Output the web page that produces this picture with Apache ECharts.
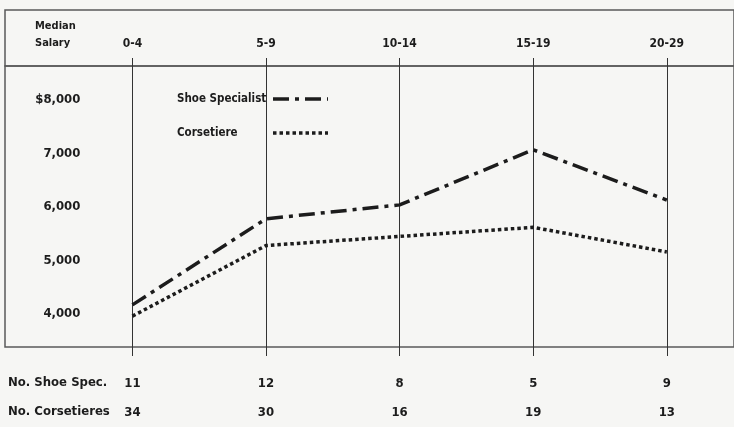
<!DOCTYPE html>
<html>
<head>
<meta charset="utf-8">
<script src="https://cdn.jsdelivr.net/npm/echarts@6/dist/echarts.min.js"></script>
<style>
  html, body { margin: 0; padding: 0; background: #f6f6f4; }
  #chart { width: 734px; height: 427px; }
</style>
</head>
<body>
<div id="chart"></div>
<script>
// ---- Data ----
var categories = ['0-4', '5-9', '10-14', '15-19', '20-29'];
var shoeSalary = [4170, 5780, 6040, 7070, 6130];
var corsSalary = [3960, 5280, 5450, 5620, 5160];
var shoeCounts = [11, 12, 8, 5, 9];
var corsCounts = [34, 30, 16, 19, 13];
var yTickValues = [4000, 5000, 6000, 7000, 8000];
var yTickLabels = ['4,000', '5,000', '6,000', '7,000', '$8,000'];
var seriesNames = ['Shoe Specialist', 'Corsetiere'];
var rowLabels = ['No. Shoe Spec.', 'No. Corsetieres'];
var headerLabel = 'Median\nSalary';

// ---- Styles ----
var FONT = '"DejaVu Sans Condensed", "Liberation Sans Narrow", "Arial Narrow", sans-serif';
var INK = '#1c1c1c';
var FRAME = '#5a5a5a';

var chart = echarts.init(document.getElementById('chart'), null, { renderer: 'canvas' });

var hiddenAxis = function (grid) {
  return { gridIndex: grid, type: 'value', show: false, min: 0, max: 1 };
};

var option = {
  backgroundColor: '#f6f6f4',
  animation: false,
  textStyle: { fontFamily: FONT },
  grid: [
    { left: 132.4, right: 67.2, top: 66, bottom: 80, show: false },
    { left: 5, right: -20, top: 10, height: 56, show: true, borderColor: FRAME, borderWidth: 1.5, backgroundColor: 'transparent' },
    { left: 5, right: -20, top: 66, bottom: 80, show: true, borderColor: FRAME, borderWidth: 1.5, backgroundColor: 'transparent' }
  ],
  xAxis: [
    {
      gridIndex: 0, type: 'category', data: categories, position: 'bottom', boundaryGap: false,
      axisLine: { show: false },
      axisTick: { show: true, length: 9, lineStyle: { color: '#333', width: 1 } },
      splitLine: { show: true, lineStyle: { color: '#333', width: 1 } },
      axisLabel: {
        margin: 22,
        formatter: function (v, i) { return '{a|' + shoeCounts[i] + '}\n{b|' + corsCounts[i] + '}'; },
        rich: {
          a: { fontFamily: FONT, fontWeight: 'bold', fontSize: 13, color: INK, lineHeight: 29 },
          b: { fontFamily: FONT, fontWeight: 'bold', fontSize: 13, color: INK, lineHeight: 29 }
        }
      }
    },
    {
      gridIndex: 0, type: 'category', data: categories, position: 'top', boundaryGap: false,
      axisLine: { show: false },
      axisTick: { show: true, length: 8, lineStyle: { color: '#333', width: 1 } },
      splitLine: { show: false },
      axisLabel: { margin: 16, fontFamily: FONT, fontWeight: 'bold', fontSize: 12, color: INK }
    },
    hiddenAxis(1), hiddenAxis(2)
  ],
  yAxis: [
    {
      gridIndex: 0, type: 'value', min: 3383, max: 8636,
      axisLine: { show: false }, axisTick: { show: false }, splitLine: { show: false },
      axisLabel: {
        customValues: yTickValues,
        margin: 52,
        fontFamily: FONT, fontWeight: 'bold', fontSize: 13, color: INK,
        formatter: function (v) { var i = yTickValues.indexOf(v); return i >= 0 ? yTickLabels[i] : ''; }
      }
    },
    hiddenAxis(1), hiddenAxis(2)
  ],
  legend: {
    orient: 'vertical', left: 172, top: 88, align: 'right', itemGap: 22,
    itemWidth: 55, itemHeight: 12,
    itemStyle: { opacity: 0 },
    lineStyle: { width: 3.5 },
    formatter: function (name) { return '{n|' + name + '}'; },
    textStyle: {
      fontFamily: FONT, fontWeight: 'bold', fontSize: 11.5, color: INK,
      rich: { n: { width: 91, align: 'left', fontFamily: FONT, fontWeight: 'bold', fontSize: 11.5, color: INK } }
    },
    data: seriesNames
  },
  graphic: [
    { type: 'text', left: 35, top: 18, style: { text: headerLabel, font: 'bold 11px ' + FONT, fill: INK, lineHeight: 17 } },
    { type: 'text', left: 8, top: 376, style: { text: rowLabels[0], font: 'bold 13px ' + FONT, fill: INK } },
    { type: 'text', left: 8, top: 405, style: { text: rowLabels[1], font: 'bold 13px ' + FONT, fill: INK } }
  ],
  series: [
    {
      name: seriesNames[0], type: 'line', xAxisIndex: 0, yAxisIndex: 0, data: shoeSalary,
      symbol: 'none', color: INK,
      lineStyle: { color: INK, width: 3.5, type: [16, 6, 4, 6], cap: 'butt' }
    },
    {
      name: seriesNames[1], type: 'line', xAxisIndex: 0, yAxisIndex: 0, data: corsSalary,
      symbol: 'none', color: INK,
      lineStyle: { color: INK, width: 3.5, type: [3.5, 3], cap: 'butt' }
    }
  ]
};
chart.setOption(option);
</script>
</body>
</html>
